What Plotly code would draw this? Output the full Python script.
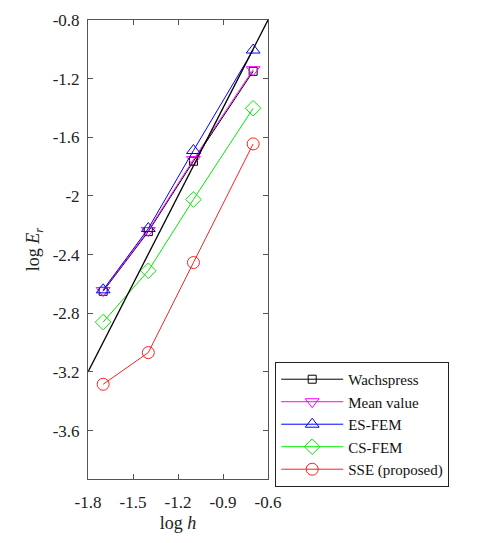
import plotly.graph_objects as go

log_h = [-1.699, -1.398, -1.097, -0.699]
wachspress = [-2.650, -2.243, -1.763, -1.150]
mean_value = [-2.645, -2.235, -1.752, -1.139]
es_fem = [-2.640, -2.222, -1.690, -1.005]
cs_fem = [-2.860, -2.510, -2.024, -1.402]
sse = [-3.284, -3.068, -2.454, -1.645]
ref_x = [-1.8, -0.6]
ref_y = [-3.2, -0.8]

xticks = [-1.8, -1.5, -1.2, -0.9, -0.6]
xticktext = ["-1.8", "-1.5", "-1.2", "-0.9", "-0.6"]
yticks = [-3.6, -3.2, -2.8, -2.4, -2.0, -1.6, -1.2, -0.8]
yticktext = ["-3.6", "-3.2", "-2.8", "-2.4", "-2", "-1.6", "-1.2", "-0.8"]

FONT = "Liberation Serif, Times New Roman, serif"

fig = go.Figure()
series = [
    ("Wachspress", wachspress, "#000000", "square-open", 8),
    ("Mean value", mean_value, "#ff00ff", "triangle-down-open", 12),
    ("ES-FEM", es_fem, "#0000ff", "triangle-up-open", 12),
    ("CS-FEM", cs_fem, "#00ee00", "diamond-open", 12),
    ("SSE (proposed)", sse, "#ff2020", "circle-open", 12),
]
for name, vals, col, sym, sz in series:
    fig.add_trace(go.Scatter(
        x=log_h, y=vals, name=name, mode="lines+markers",
        line=dict(color=col, width=1),
        marker=dict(symbol=sym, size=sz, color=col, line=dict(width=1, color=col)),
    ))
fig.add_trace(go.Scatter(x=ref_x, y=ref_y, mode="lines", showlegend=False,
                         line=dict(color="#000000", width=1.3)))

axis_common = dict(
    showline=True, linecolor="#555555", linewidth=1, mirror="ticks",
    ticks="inside", ticklen=5, tickcolor="#555555", showgrid=False, zeroline=False,
    tickfont=dict(family=FONT, size=17, color="#222222"),
)
fig.update_xaxes(range=[-1.8, -0.6], tickvals=xticks, ticktext=xticktext,
                 ticklabelstandoff=8,
                 title=dict(text="log <i>h</i>", font=dict(family=FONT, size=18, color="#222222"), standoff=4),
                 **axis_common)
fig.update_yaxes(range=[-3.93, -0.8], tickvals=yticks, ticktext=yticktext,
                 ticklabelstandoff=4,
                 title=dict(text="log <i>E<sub>r</sub></i>", font=dict(family=FONT, size=18, color="#222222"), standoff=8),
                 **axis_common)

fig.update_layout(
    width=479, height=543,
    margin=dict(l=88, r=211, t=11, b=64),
    paper_bgcolor="white", plot_bgcolor="white",
    font=dict(family=FONT, size=15, color="#111111"),
    legend=dict(x=1.04, y=0.255, xanchor="left", yanchor="top",
                bordercolor="#222222", borderwidth=1, bgcolor="white",
                font=dict(family=FONT, size=15, color="#111111"),
                tracegroupgap=0, itemwidth=62),
)
fig.write_html("out.html")
